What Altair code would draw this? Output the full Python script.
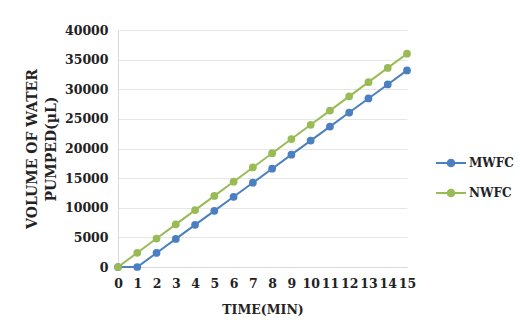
import altair as alt
import pandas as pd

minutes = list(range(16))
mwfc = [0, 0, 2370, 4740, 7110, 9480, 11850, 14220, 16590, 18960, 21330, 23700, 26070, 28440, 30810, 33180]
nwfc = [0, 2400, 4800, 7200, 9600, 12000, 14400, 16800, 19200, 21600, 24000, 26400, 28800, 31200, 33600, 36000]
series_names = ["MWFC", "NWFC"]
series_colors = ["#4a7fc1", "#99bb55"]

rows = []
for name, vals in zip(series_names, [mwfc, nwfc]):
    for t, v in zip(minutes, vals):
        rows.append({"t": t, "v": v, "s": name})
df = pd.DataFrame(rows)

FONT = "DejaVu Serif"

sym = "M-1,0H1M-0.22,0A0.22,0.22,0,1,1,0.22,0A0.22,0.22,0,1,1,-0.22,0Z"

chart = alt.Chart(df).mark_line(
    strokeWidth=2,
    point=alt.OverlayMarkDef(filled=True, size=60, opacity=1),
).encode(
    x=alt.X("t:Q", scale=alt.Scale(domain=[0, 15], nice=False, zero=False),
            axis=alt.Axis(title="TIME(MIN)", values=minutes, grid=False, ticks=False, format="d",
                          domainColor="#d9d9d9", labelPadding=10, titlePadding=14,
                          labelFlush=False, labelOverlap=False)),
    y=alt.Y("v:Q", scale=alt.Scale(domain=[0, 40000], nice=False),
            axis=alt.Axis(title=["VOLUME OF WATER", "PUMPED(µL)"], values=list(range(0, 40001, 5000)),
                          format="d", grid=True, gridColor="#e6e6e6", ticks=False, domainColor="#d9d9d9",
                          labelPadding=10, titlePadding=6, titleFontSize=14, titleLineHeight=19)),
    color=alt.Color("s:N", scale=alt.Scale(domain=series_names, range=series_colors),
                    legend=alt.Legend(title=None, orient="none", legendX=317, legendY=117,
                                      symbolType=sym, symbolSize=900, symbolStrokeWidth=2,
                                      labelFont=FONT, labelFontWeight="bold", labelFontSize=12,
                                      labelColor="#222222", rowPadding=6, labelOffset=2)),
).properties(
    width=289, height=237,
    autosize=alt.AutoSizeParams(type="none"),
    padding={"left": 118, "top": 30, "right": 113, "bottom": 68},
).configure(background="white").configure_view(stroke=None).configure_axis(
    labelFont=FONT, labelFontWeight="bold", labelFontSize=12.5, labelColor="#222222",
    titleFont=FONT, titleFontWeight="bold", titleFontSize=12.5, titleColor="#222222",
)

chart.save("out.html", embed_options={"renderer": "svg", "actions": False})
